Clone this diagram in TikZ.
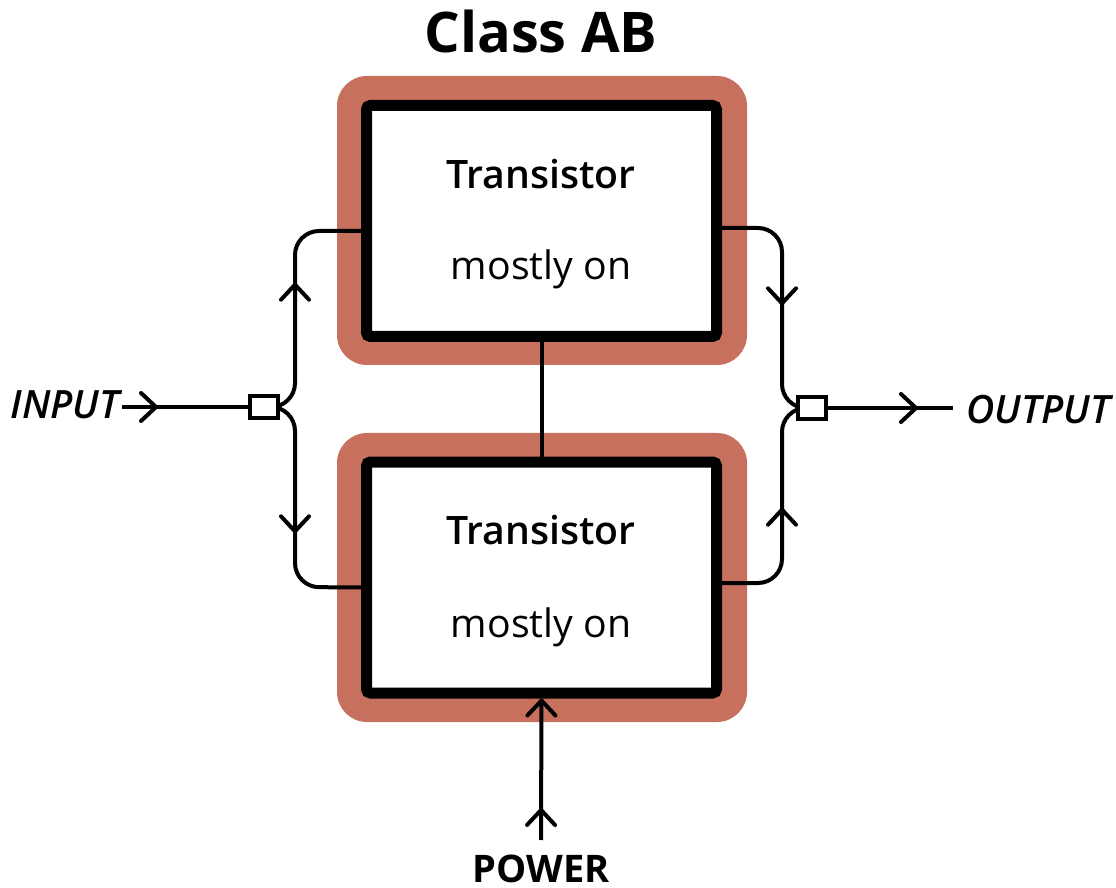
\documentclass[tikz,border=0pt]{standalone}
\usepackage{fontspec}
\setmainfont{Open Sans}
\IfFontExistsTF{Open Sans SemiBold}{\newfontfamily\semib{Open Sans SemiBold}}{%
  \IfFontExistsTF{Open Sans Semibold}{\newfontfamily\semib{Open Sans Semibold}}{\newcommand\semib{\bfseries}}}
\IfFontExistsTF{Open Sans SemiBold Italic}{\newfontfamily\semibit{Open Sans SemiBold Italic}}{%
  \IfFontExistsTF{Open Sans Semibold Italic}{\newfontfamily\semibit{Open Sans Semibold Italic}}{\newcommand\semibit{\bfseries\itshape}}}
\usetikzlibrary{arrows.meta,decorations.markings}
\definecolor{brick}{HTML}{C8705E}
\pgfdeclarelayer{back}
\pgfdeclarelayer{wires}
\pgfsetlayers{back,wires,main}
\begin{document}
\begin{tikzpicture}[x=0.5pt,y=-0.5pt,
  halo/.style={fill=brick, draw=none, rounded corners=15pt, minimum width=205pt, minimum height=144.5pt, inner sep=0pt},
  tbox/.style={draw=black, fill=white, line width=5.5pt, rounded corners=2pt, minimum width=175pt, minimum height=115.5pt, inner sep=0pt},
  wire/.style={line width=2pt, rounded corners=12pt},
  junc/.style={draw=black, fill=white, line width=2pt, minimum width=14pt, minimum height=11pt, inner sep=0pt},
  midarr/.style={decoration={markings, mark=at position #1 with {\arrow{Straight Barb[length=7.5pt,width=14pt,round]}}}, postaction={decorate}},
  endarr/.style={-{Straight Barb[length=7.5pt,width=14pt,round]}},
  title/.style={font=\bfseries\fontsize{28}{32}\selectfont},
  head/.style={font=\semib\fontsize{19.6}{22}\selectfont},
  power/.style={font=\bfseries\fontsize{19}{22}\selectfont},
  sub/.style={font=\fontsize{19.6}{22}\selectfont},
  port/.style={font=\semibit\fontsize{19.5}{22}\selectfont},
]
\useasboundingbox (0,0) rectangle (1116,888);

% halos
\begin{pgfonlayer}{back}
\node[halo] (tbh) at (542,220.5) {};
\node[halo] (bbh) at (542,577.5) {};
\end{pgfonlayer}

% boxes
\node[tbox] (tb) at (541.5,221) {};
\node[tbox] (bb) at (541.5,577.5) {};

% texts
\node[title, anchor=base] (ttl) at (541,53) {Class AB};
\node[head, anchor=base] (t1) at (541,189) {Transistor};
\node[sub, anchor=base] (s1) at (541,280) {mostly on};
\node[head, anchor=base] (t2) at (541,545) {Transistor};
\node[sub, anchor=base] (s2) at (541,637) {mostly on};
\node[port, anchor=base east, inner sep=1pt] (in) at (122,418) {INPUT};
\node[port, anchor=base west, inner sep=1pt] (out) at (964,423) {OUTPUT};
\node[power, anchor=base, inner sep=1pt] (pw) at (541,882) {POWER};
\coordinate (pwtop) at (541,840);

% junctions
\node[junc] (inj) at (264,407) {};
\node[junc] (outj) at (812,408) {};

\begin{pgfonlayer}{wires}
\draw[wire, midarr=18pt] (in.east |- inj.center) -- (inj.west);
\draw[wire, midarr=72.5pt] (inj.center) -- (295,407) -- (295,231) -- ([yshift=-5pt]tb.west);
\draw[wire, midarr=73.5pt] (inj.center) -- (295,407) -- (295,587) -- ([yshift=-5pt]bb.west);
\draw[wire, midarr=63.5pt] ([yshift=-3.5pt]tb.east) -- (782,228) -- (782,408) -- (outj.center);
\draw[wire, midarr=62.5pt] ([yshift=-2.75pt]bb.east) -- (782,583) -- (782,408) -- (outj.center);
\draw[wire, midarr=45pt] (outj.east) -- ([xshift=-5.5pt]out.west |- outj.east);
\draw[wire] (tb.south) -- (bb.north);
\draw[wire, endarr, midarr=16pt] (pwtop) -- (bb.south);
\end{pgfonlayer}
\end{tikzpicture}
\end{document}
